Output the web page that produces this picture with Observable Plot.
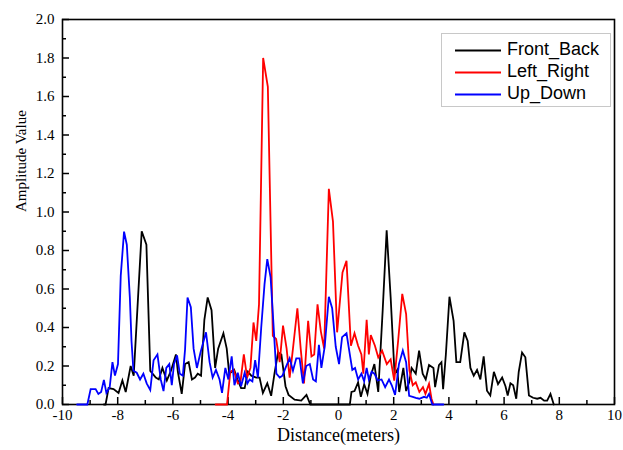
<!DOCTYPE html>
<html>
<head>
<meta charset="utf-8">
<script src="https://cdn.jsdelivr.net/npm/d3@7"></script>
<script src="https://cdn.jsdelivr.net/npm/@observablehq/plot@0.6"></script>
<style>
  html, body { margin: 0; padding: 0; background: #fff; }
  #wrap { position: relative; width: 623px; height: 450px; }
  #legend { position: absolute; left: 441px; top: 33px; width: 170px; height: 74px; box-sizing: border-box;
            border: 1px solid #c8c8c8; background: #fff; font-family: "Liberation Sans", Arial, sans-serif; font-size: 18px; }
  .row { position: absolute; left: 0; height: 22px; width: 168px; }
  .row svg { position: absolute; left: 13px; top: 10px; }
  .row span { position: absolute; left: 65px; top: -1px; line-height: 22px; color: #000; }
</style>
</head>
<body>
<div id="wrap"><div id="legend"></div></div>
<script>
// Series names and colors
const seriesNames = ["Front_Back", "Left_Right", "Up_Down"];
const seriesColors = ["#000000", "#ff0000", "#0000ff"];

// Front_Back
const fbX = [-8.5,-8.44,-8.33,-8.15,-7.97,-7.83,-7.71,-7.53,-7.42,-7.13,-6.96,-6.82,-6.62,-6.51,-6.38,-6.22,-6.07,-5.89,-5.82,-5.68,-5.56,-5.43,-5.31,-5.2,-5.1,-4.98,-4.86,-4.74,-4.6,-4.47,-4.36,-4.17,-4.05,-3.96,-3.78,-3.66,-3.53,-3.4,-3.28,-3.16,-2.98,-2.86,-2.74,-2.58,-2.44,-2.32,-2.19,-2.07,-1.92,-1.81,-1.59,-1.35,-1.16,-1.02,-0.5,0.0,0.41,0.47,0.58,0.71,0.81,0.93,1.05,1.17,1.3,1.44,1.6,1.745,1.89,2.03,2.13,2.2,2.35,2.45,2.56,2.65,2.8,2.92,3.05,3.16,3.28,3.44,3.5,3.64,3.73,3.79,3.89,4.02,4.17,4.27,4.41,4.56,4.68,4.78,4.9,5.02,5.14,5.26,5.38,5.5,5.63,5.78,5.93,6.05,6.13,6.23,6.33,6.44,6.53,6.65,6.77,6.9,7.05,7.2,7.32,7.45,7.56,7.68,7.8];
const fbY = [0,0,0.085,0.08,0.06,0.125,0.065,0.2,0.15,0.9,0.83,0.175,0.14,0.13,0.19,0.125,0.175,0.26,0.17,0.055,0.21,0.22,0.13,0.14,0.16,0.15,0.44,0.556,0.49,0.19,0.29,0.37,0.29,0.16,0.18,0.13,0.085,0.085,0.17,0.15,0.14,0.14,0.06,0.11,0.045,0.16,0.27,0.26,0.095,0.05,0.025,0.02,0.05,0,0,0,0,0.065,0.07,0.115,0.04,0.105,0.055,0.15,0.21,0.065,0.487,0.905,0.556,0.16,0.18,0.065,0.19,0.07,0.115,0.19,0.16,0.28,0.16,0.13,0.205,0.19,0.09,0.205,0.22,0.08,0.26,0.56,0.435,0.22,0.22,0.375,0.33,0.19,0.15,0.18,0.13,0.25,0.072,0.047,0.17,0.106,0.14,0.095,0.047,0.11,0.1,0.03,0.17,0.27,0.245,0.047,0.035,0.03,0.035,0.02,0.02,0.055,0];

// Left_Right
const lrX = [-4.45,-4.04,-3.92,-3.8,-3.65,-3.55,-3.43,-3.31,-3.19,-3.08,-2.98,-2.88,-2.73,-2.56,-2.38,-2.26,-2.13,-2.01,-1.88,-1.77,-1.65,-1.49,-1.37,-1.25,-1.1,-0.98,-0.88,-0.76,-0.64,-0.52,-0.35,-0.2,-0.05,0.145,0.29,0.45,0.58,0.71,0.83,0.9,1.02,1.1,1.17,1.32,1.44,1.58,1.75,1.89,2.02,2.16,2.31,2.45,2.57,2.69,2.8,2.93,3.06,3.15,3.28,3.37,3.44];
const lrY = [0,0,0.17,0.18,0.11,0.12,0.26,0.14,0.19,0.426,0.33,0.52,1.8,1.65,0.357,0.34,0.22,0.41,0.29,0.14,0.29,0.5,0.29,0.11,0.435,0.25,0.26,0.52,0.38,0.29,1.12,0.95,0.375,0.686,0.746,0.305,0.37,0.305,0.26,0.16,0.44,0.26,0.36,0.305,0.245,0.28,0.21,0.235,0.124,0.33,0.575,0.47,0.176,0.1,0.115,0.065,0.09,0.055,0.107,0.03,0];

// Up_Down
const udX = [-9.47,-9.1,-8.98,-8.8,-8.7,-8.6,-8.5,-8.41,-8.29,-8.19,-8.1,-7.99,-7.89,-7.77,-7.67,-7.56,-7.5,-7.43,-7.31,-7.19,-7.07,-6.95,-6.82,-6.7,-6.56,-6.44,-6.34,-6.24,-6.13,-6.04,-5.96,-5.85,-5.75,-5.64,-5.56,-5.47,-5.35,-5.25,-5.13,-5.0,-4.8,-4.67,-4.56,-4.44,-4.31,-4.22,-4.1,-3.99,-3.87,-3.77,-3.65,-3.53,-3.4,-3.3,-3.22,-3.12,-3.02,-2.92,-2.8,-2.68,-2.58,-2.46,-2.37,-2.25,-2.13,-2.03,-1.92,-1.77,-1.65,-1.53,-1.41,-1.29,-1.17,-1.04,-0.92,-0.82,-0.71,-0.62,-0.5,-0.35,-0.23,-0.1,0.02,0.13,0.29,0.41,0.5,0.6,0.71,0.83,0.93,1.02,1.1,1.2,1.3,1.42,1.56,1.69,1.83,1.93,2.05,2.19,2.33,2.45,2.56,2.69,2.8,2.93,3.1,3.2,3.28,3.4,3.8];
const udY = [0,0,0.08,0.08,0.055,0.065,0.128,0.06,0.09,0.22,0.15,0.21,0.668,0.898,0.83,0.556,0.33,0.175,0.165,0.13,0.16,0.11,0.075,0.23,0.26,0.13,0.07,0.19,0.21,0.1,0.21,0.255,0.16,0.15,0.285,0.556,0.505,0.29,0.19,0.27,0.375,0.22,0.14,0.18,0.13,0.06,0.19,0.13,0.25,0.1,0.165,0.095,0.165,0.11,0.13,0.12,0.23,0.14,0.4,0.625,0.755,0.66,0.45,0.16,0.14,0.15,0.19,0.24,0.175,0.24,0.24,0.11,0.2,0.21,0.13,0.12,0.31,0.19,0.3,0.56,0.5,0.3,0.21,0.35,0.37,0.26,0.18,0.19,0.13,0.16,0.12,0.19,0.13,0.17,0.16,0.125,0.13,0.09,0.13,0.1,0.05,0.21,0.28,0.22,0.045,0.04,0.035,0.03,0.04,0.035,0.055,0,0];

// Axis ticks and titles
const xTicks = [-10,-8,-6,-4,-2,0,2,4,6,8,10];
const xMinor = [-9,-7,-5,-3,-1,1,3,5,7,9];
const yTicks = [0,0.2,0.4,0.6,0.8,1.0,1.2,1.4,1.6,1.8,2.0];
const yMinor = [0.1,0.3,0.5,0.7,0.9,1.1,1.3,1.5,1.7,1.9];
const xTitle = "Distance(meters)";
const yTitle = "Amplitude Value";

const xs = [fbX, lrX, udX];
const ys = [fbY, lrY, udY];
const data = [];
seriesNames.forEach((name, s) => {
  xs[s].forEach((x, i) => data.push({series: name, x, y: ys[s][i]}));
});

const W = 623, H = 450, mL = 62, mR = 9, mT = 19, mB = 46;
const fw = W - mL - mR, fh = H - mT - mB;
const serif = "'Liberation Serif', 'Times New Roman', serif";

const chart = Plot.plot({
  width: W, height: H,
  marginLeft: mL, marginRight: mR, marginTop: mT, marginBottom: mB,
  style: {background: "transparent", fontFamily: serif},
  x: {domain: [-10, 10]},
  y: {domain: [0, 2]},
  color: {domain: seriesNames, range: seriesColors},
  marks: [
    Plot.frame({stroke: "black", strokeWidth: 1.6}),
    Plot.ruleX(xTicks, {x: d => d, insetTop: fh - 7, stroke: "black", strokeWidth: 1.5}),
    Plot.ruleX(xMinor, {x: d => d, insetTop: fh - 4, stroke: "black", strokeWidth: 1.5}),
    Plot.ruleY(yTicks, {y: d => d, insetRight: fw - 7, stroke: "black", strokeWidth: 1.5}),
    Plot.ruleY(yMinor, {y: d => d, insetRight: fw - 4, stroke: "black", strokeWidth: 1.5}),
    Plot.axisX({ticks: xTicks, tickSize: 0, tickPadding: 5, fontSize: 15, fontFamily: serif, label: null, tickFormat: d => String(d)}),
    Plot.axisY({ticks: yTicks, tickSize: 0, tickPadding: 8, fontSize: 15, fontFamily: serif, label: null, tickFormat: d3.format(".1f")}),
    Plot.text([xTitle], {text: d => d, frameAnchor: "bottom", dy: 36, fontSize: 18, fontFamily: serif, fill: "black"}),
    Plot.text([yTitle], {text: d => d, frameAnchor: "left", dx: -41, rotate: -90, fontSize: 15, fontFamily: serif, fill: "black"}),
    Plot.line(data, {x: "x", y: "y", z: "series", stroke: "series", strokeWidth: 1.8, strokeLinejoin: "miter", strokeMiterlimit: 4})
  ]
});
document.getElementById("wrap").prepend(chart);

// Legend
const legend = document.getElementById("legend");
seriesNames.forEach((name, i) => {
  const row = document.createElement("div");
  row.className = "row";
  row.style.top = (5 + i * 22) + "px";
  row.innerHTML = `<svg width="46" height="3"><line x1="0" y1="1.5" x2="46" y2="1.5" stroke="${seriesColors[i]}" stroke-width="1.8"/></svg><span>${name}</span>`;
  legend.appendChild(row);
});
</script>
</body>
</html>
